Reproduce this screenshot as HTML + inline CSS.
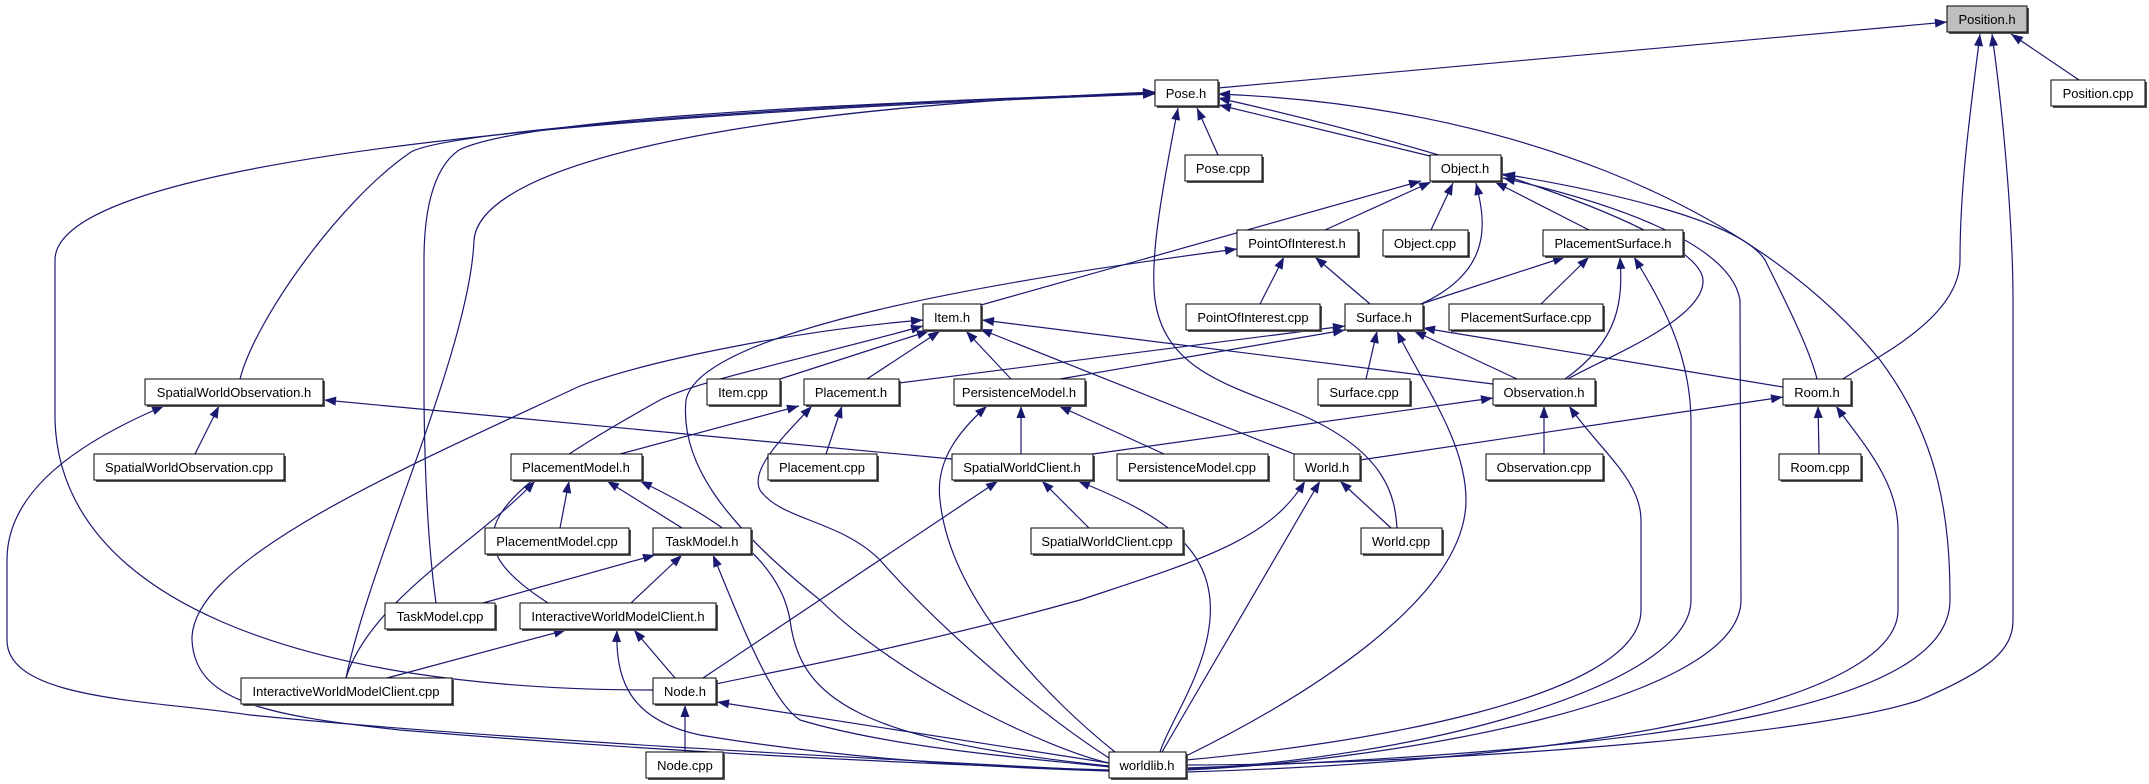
<!DOCTYPE html>
<html><head><meta charset="utf-8"><style>
html,body{margin:0;padding:0;background:#fff;}
svg{display:block}
text{font-family:"Liberation Sans",sans-serif;font-size:13px;fill:#000;text-anchor:middle;}
.e{fill:none;stroke:#191970;stroke-width:1.2;marker-start:url(#a)}
.n{fill:#fff;stroke:#000;stroke-width:1}
.s{fill:#555}
</style></head><body>
<svg width="2149" height="784" viewBox="0 0 2149 784" xmlns="http://www.w3.org/2000/svg">
<defs><marker id="a" markerUnits="userSpaceOnUse" markerWidth="13" markerHeight="10" refX="0" refY="4.5" orient="auto"><path d="M0,4.5 L12,0 L12,9 z" fill="#191970"/></marker></defs>
<g>
<path class="e" d="M1947,22 L1218,88"/>
<path class="e" d="M2011,34 L2079,80"/>
<path class="e" d="M1980,34 C1972,100 1960,180 1960,260 C1960,320 1870,360 1843,379"/>
<path class="e" d="M1992,34 C2008,150 2013,250 2013,300 L2013,620 C2013,650 1990,670 1920,700 C1800,740 1400,765 1186,765"/>
<path class="e" d="M1197,108 L1218,155"/>
<path class="e" d="M1219,105 L1430,156"/>
<path class="e" d="M1218,98 C1450,150 1700,230 1703,280 C1705,320 1600,360 1568,379"/>
<path class="e" d="M1218,94 C1500,105 1750,200 1880,360 C1940,440 1950,520 1950,600 C1950,700 1700,750 1186,768"/>
<path class="e" d="M1178,108 C1160,200 1150,260 1155,300 C1165,370 1230,385 1290,410 C1390,450 1395,500 1397,528"/>
<path class="e" d="M1155,94 C700,110 55,150 55,260 L55,420 C60,600 300,690 653,690"/>
<path class="e" d="M1155,93 C800,105 450,130 411,152 C340,200 255,320 240,379"/>
<path class="e" d="M1155,93 C800,105 520,120 459,150 C430,170 424,220 424,260 L424,400 C425,500 430,560 436,603"/>
<path class="e" d="M1155,92 C700,110 480,170 474,240 C470,350 370,560 346,678"/>
<path class="e" d="M1421,181 L981,305"/>
<path class="e" d="M1431,182 L1325,230"/>
<path class="e" d="M1453,183 L1431,230"/>
<path class="e" d="M1476,183 C1485,220 1495,270 1421,304"/>
<path class="e" d="M1495,182 L1589,230"/>
<path class="e" d="M1503,174 C1600,190 1740,220 1765,260 C1785,300 1810,350 1817,379"/>
<path class="e" d="M1503,178 C1600,200 1730,240 1740,300 L1741,600 C1741,700 1400,760 1186,770"/>
<path class="e" d="M1284,257 L1260,304"/>
<path class="e" d="M1315,257 L1370,304"/>
<path class="e" d="M1237,249 C1000,280 700,330 686,400 C680,460 720,520 820,600 C900,680 1050,750 1109,763"/>
<path class="e" d="M1565,257 L1421,304"/>
<path class="e" d="M1589,257 L1541,304"/>
<path class="e" d="M1620,257 C1623,300 1620,340 1565,379"/>
<path class="e" d="M1634,257 C1660,300 1690,350 1691,420 L1691,600 C1691,690 1400,760 1186,769"/>
<path class="e" d="M1377,331 L1366,379"/>
<path class="e" d="M1345,326 L899,383"/>
<path class="e" d="M1345,330 L1060,379"/>
<path class="e" d="M1414,331 L1517,379"/>
<path class="e" d="M1423,328 L1783,387"/>
<path class="e" d="M1397,331 C1420,380 1466,440 1466,500 C1466,600 1300,700 1186,756"/>
<path class="e" d="M929,331 L780,379"/>
<path class="e" d="M940,331 L867,379"/>
<path class="e" d="M966,331 L1011,379"/>
<path class="e" d="M980,329 L1294,454"/>
<path class="e" d="M982,320 L1493,384"/>
<path class="e" d="M923,320 C800,330 650,360 580,386 C400,470 190,560 192,640 C195,700 260,715 400,730 C700,755 950,765 1109,770"/>
<path class="e" d="M923,326 C800,360 700,380 660,400 C480,500 450,540 548,603"/>
<path class="e" d="M164,406 C60,450 7,500 7,560 L7,640 C7,700 150,700 250,715 C500,740 900,760 1109,771"/>
<path class="e" d="M219,406 L195,454"/>
<path class="e" d="M324,400 L952,459"/>
<path class="e" d="M799,406 L620,454"/>
<path class="e" d="M842,406 L826,454"/>
<path class="e" d="M812,406 C780,440 750,470 760,490 C780,520 840,520 880,560 C950,640 1050,720 1109,758"/>
<path class="e" d="M1021,406 L1021,454"/>
<path class="e" d="M1059,406 L1164,454"/>
<path class="e" d="M987,406 C960,430 935,460 940,500 C950,600 1050,700 1115,752"/>
<path class="e" d="M1493,398 L1093,454"/>
<path class="e" d="M1544,406 L1544,454"/>
<path class="e" d="M1569,406 C1600,450 1641,480 1641,520 L1641,610 C1641,700 1350,745 1186,760"/>
<path class="e" d="M1783,397 L1360,460"/>
<path class="e" d="M1818,406 L1819,454"/>
<path class="e" d="M1836,406 C1860,440 1898,480 1898,530 L1898,610 C1898,700 1600,760 1186,772"/>
<path class="e" d="M998,481 L703,678"/>
<path class="e" d="M1042,481 L1089,528"/>
<path class="e" d="M1078,481 C1150,510 1205,540 1210,600 C1215,660 1170,720 1160,752"/>
<path class="e" d="M1305,481 C1270,540 1200,560 1080,600 C900,650 780,670 716,684"/>
<path class="e" d="M1340,481 L1391,528"/>
<path class="e" d="M1320,481 L1162,752"/>
<path class="e" d="M569,481 L560,528"/>
<path class="e" d="M607,481 L682,528"/>
<path class="e" d="M535,481 C480,540 370,600 346,678"/>
<path class="e" d="M640,481 C720,520 780,560 790,620 C800,700 860,740 1109,766"/>
<path class="e" d="M655,555 L483,603"/>
<path class="e" d="M682,555 L631,603"/>
<path class="e" d="M713,555 C740,620 770,700 800,720 C900,750 1050,760 1109,767"/>
<path class="e" d="M566,630 L387,678"/>
<path class="e" d="M634,630 L675,678"/>
<path class="e" d="M617,630 C615,680 630,720 700,735 C850,760 1000,768 1109,771"/>
<path class="e" d="M685,705 L685,752"/>
<path class="e" d="M717,702 L1109,763"/>
</g>
<g>
<rect class="s" x="1949" y="8" width="80" height="26"/><rect x="1947" y="6" width="80" height="26" fill="#bfbfbf" stroke="#000"/><text x="1987" y="24">Position.h</text>
<rect class="s" x="1157" y="82" width="63" height="26"/><rect class="n" x="1155" y="80" width="63" height="26"/><text x="1186" y="98">Pose.h</text>
<rect class="s" x="2053" y="82" width="94" height="26"/><rect class="n" x="2051" y="80" width="94" height="26"/><text x="2098" y="98">Position.cpp</text>
<rect class="s" x="1187" y="157" width="77" height="26"/><rect class="n" x="1185" y="155" width="77" height="26"/><text x="1223" y="173">Pose.cpp</text>
<rect class="s" x="1432" y="157" width="71" height="26"/><rect class="n" x="1430" y="155" width="71" height="26"/><text x="1465" y="173">Object.h</text>
<rect class="s" x="1239" y="232" width="121" height="26"/><rect class="n" x="1237" y="230" width="121" height="26"/><text x="1297" y="248">PointOfInterest.h</text>
<rect class="s" x="1385" y="232" width="85" height="26"/><rect class="n" x="1383" y="230" width="85" height="26"/><text x="1425" y="248">Object.cpp</text>
<rect class="s" x="1545" y="232" width="140" height="26"/><rect class="n" x="1543" y="230" width="140" height="26"/><text x="1613" y="248">PlacementSurface.h</text>
<rect class="s" x="1188" y="306" width="134" height="26"/><rect class="n" x="1186" y="304" width="134" height="26"/><text x="1253" y="322">PointOfInterest.cpp</text>
<rect class="s" x="1347" y="306" width="78" height="26"/><rect class="n" x="1345" y="304" width="78" height="26"/><text x="1384" y="322">Surface.h</text>
<rect class="s" x="1451" y="306" width="154" height="26"/><rect class="n" x="1449" y="304" width="154" height="26"/><text x="1526" y="322">PlacementSurface.cpp</text>
<rect class="s" x="925" y="306" width="58" height="26"/><rect class="n" x="923" y="304" width="58" height="26"/><text x="952" y="322">Item.h</text>
<rect class="s" x="1320" y="381" width="92" height="26"/><rect class="n" x="1318" y="379" width="92" height="26"/><text x="1364" y="397">Surface.cpp</text>
<rect class="s" x="1495" y="381" width="102" height="26"/><rect class="n" x="1493" y="379" width="102" height="26"/><text x="1544" y="397">Observation.h</text>
<rect class="s" x="1785" y="381" width="68" height="26"/><rect class="n" x="1783" y="379" width="68" height="26"/><text x="1817" y="397">Room.h</text>
<rect class="s" x="147" y="381" width="178" height="26"/><rect class="n" x="145" y="379" width="178" height="26"/><text x="234" y="397">SpatialWorldObservation.h</text>
<rect class="s" x="709" y="381" width="73" height="26"/><rect class="n" x="707" y="379" width="73" height="26"/><text x="743" y="397">Item.cpp</text>
<rect class="s" x="806" y="381" width="95" height="26"/><rect class="n" x="804" y="379" width="95" height="26"/><text x="851" y="397">Placement.h</text>
<rect class="s" x="956" y="381" width="131" height="26"/><rect class="n" x="954" y="379" width="131" height="26"/><text x="1019" y="397">PersistenceModel.h</text>
<rect class="s" x="96" y="456" width="190" height="26"/><rect class="n" x="94" y="454" width="190" height="26"/><text x="189" y="472">SpatialWorldObservation.cpp</text>
<rect class="s" x="513" y="456" width="131" height="26"/><rect class="n" x="511" y="454" width="131" height="26"/><text x="576" y="472">PlacementModel.h</text>
<rect class="s" x="770" y="456" width="109" height="26"/><rect class="n" x="768" y="454" width="109" height="26"/><text x="822" y="472">Placement.cpp</text>
<rect class="s" x="954" y="456" width="141" height="26"/><rect class="n" x="952" y="454" width="141" height="26"/><text x="1022" y="472">SpatialWorldClient.h</text>
<rect class="s" x="1119" y="456" width="151" height="26"/><rect class="n" x="1117" y="454" width="151" height="26"/><text x="1192" y="472">PersistenceModel.cpp</text>
<rect class="s" x="1296" y="456" width="66" height="26"/><rect class="n" x="1294" y="454" width="66" height="26"/><text x="1327" y="472">World.h</text>
<rect class="s" x="1488" y="456" width="117" height="26"/><rect class="n" x="1486" y="454" width="117" height="26"/><text x="1544" y="472">Observation.cpp</text>
<rect class="s" x="1781" y="456" width="82" height="26"/><rect class="n" x="1779" y="454" width="82" height="26"/><text x="1820" y="472">Room.cpp</text>
<rect class="s" x="487" y="530" width="144" height="26"/><rect class="n" x="485" y="528" width="144" height="26"/><text x="557" y="546">PlacementModel.cpp</text>
<rect class="s" x="655" y="530" width="98" height="26"/><rect class="n" x="653" y="528" width="98" height="26"/><text x="702" y="546">TaskModel.h</text>
<rect class="s" x="1033" y="530" width="152" height="26"/><rect class="n" x="1031" y="528" width="152" height="26"/><text x="1107" y="546">SpatialWorldClient.cpp</text>
<rect class="s" x="1363" y="530" width="81" height="26"/><rect class="n" x="1361" y="528" width="81" height="26"/><text x="1401" y="546">World.cpp</text>
<rect class="s" x="387" y="605" width="110" height="26"/><rect class="n" x="385" y="603" width="110" height="26"/><text x="440" y="621">TaskModel.cpp</text>
<rect class="s" x="522" y="605" width="196" height="26"/><rect class="n" x="520" y="603" width="196" height="26"/><text x="618" y="621">InteractiveWorldModelClient.h</text>
<rect class="s" x="243" y="680" width="211" height="26"/><rect class="n" x="241" y="678" width="211" height="26"/><text x="346" y="696">InteractiveWorldModelClient.cpp</text>
<rect class="s" x="655" y="680" width="63" height="26"/><rect class="n" x="653" y="678" width="63" height="26"/><text x="685" y="696">Node.h</text>
<rect class="s" x="648" y="754" width="77" height="26"/><rect class="n" x="646" y="752" width="77" height="26"/><text x="685" y="770">Node.cpp</text>
<rect class="s" x="1111" y="754" width="77" height="26"/><rect class="n" x="1109" y="752" width="77" height="26"/><text x="1147" y="770">worldlib.h</text>
</g>
</svg>
</body></html>
